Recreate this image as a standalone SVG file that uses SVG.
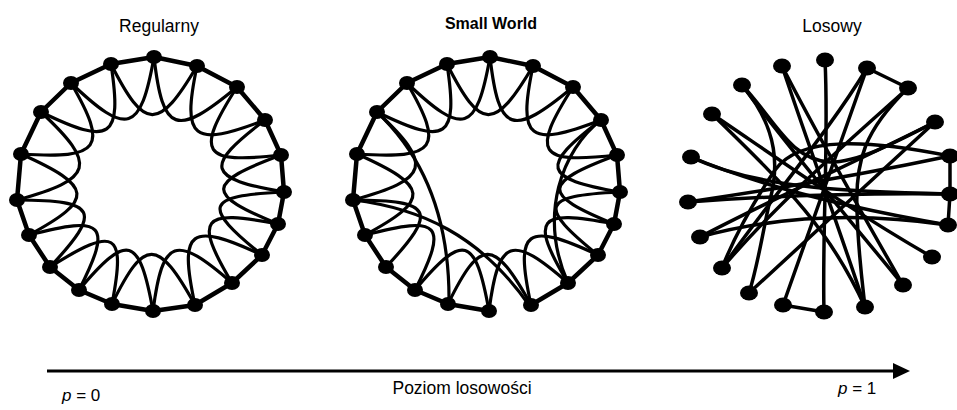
<svg xmlns="http://www.w3.org/2000/svg" width="957" height="410" viewBox="0 0 957 410">
<style>
text{font-family:"Liberation Sans",Arial,sans-serif;fill:#000}
.ring{fill:none;stroke:#000;stroke-width:4.5;stroke-linejoin:round;stroke-linecap:round}
.loop{fill:none;stroke:#000;stroke-width:3.2}
.rnd{fill:none;stroke:#000;stroke-width:3.5;stroke-linecap:round}
.n{fill:#000}
</style>
<defs>
<marker id="ah" markerUnits="userSpaceOnUse" markerWidth="18" markerHeight="18" refX="2" refY="9" orient="auto">
<path d="M0,1 L17,9 L0,17 Z" fill="#000"/>
</marker>
<g id="loops">
<path class="loop" d="M111,64 C144.7,130.9 158.5,131.3 197,66"/>
<path class="loop" d="M154,57 C162.7,133.1 175.9,137.9 237,87"/>
<path class="loop" d="M197,66 C181.5,139.5 192.3,148.1 265,120"/>
<path class="loop" d="M237,87 C194.6,153.3 201.6,164.1 281,155"/>
<path class="loop" d="M265,120 C203.2,166.9 206.2,178.5 284,192"/>
<path class="loop" d="M281,155 C205.3,183.2 204.9,194.2 278,224"/>
<path class="loop" d="M284,192 C204.7,195.8 201.1,205.8 262,255"/>
<path class="loop" d="M278,224 C200.8,208.8 193.4,218.2 232,283"/>
<path class="loop" d="M262,255 C189.4,221.2 178.6,229.2 195,305"/>
<path class="loop" d="M232,283 C175.2,233.5 162.6,237.9 153,311"/>
<path class="loop" d="M195,305 C157.7,237.7 144.5,237.5 112,304"/>
<path class="loop" d="M153,311 C139.4,235.6 127.6,232.2 79,290"/>
<path class="loop" d="M79,290 C112.7,223.7 104.7,214.9 29,235"/>
<path class="loop" d="M50,267 C102.7,210.9 97.5,200.1 17,200"/>
<path class="loop" d="M29,235 C94.8,199.4 93.6,186.4 21,154"/>
<path class="loop" d="M17,200 C93.9,179 97.7,165 41,112"/>
<path class="loop" d="M21,154 C100.8,159.4 108.8,148 71,83"/>
<path class="loop" d="M41,112 C111.2,146.3 122.4,138.7 111,64"/>
<path class="loop" d="M71,83 C127.4,136.8 140.6,132.6 154,57"/>
</g>
</defs>
<rect width="957" height="410" fill="#fff"/>

<text x="159" y="32" font-size="17.5" text-anchor="middle">Regularny</text>
<text x="491" y="29" font-size="16" font-weight="bold" text-anchor="middle">Small World</text>
<text x="832" y="32" font-size="17.5" text-anchor="middle">Losowy</text>

<g id="connectors">
<g id="regular-edges">
<path class="ring" d="M154,57 L197,66 L237,87 L265,120 L281,155 L284,192 L278,224 L262,255 L232,283 L195,305 L153,311 L112,304 L79,290 L50,267 L29,235 L17,200 L21,154 L41,112 L71,83 L111,64 Z"/>
<use href="#loops"/>
<path class="loop" d="M112,304 C126,231.5 116,225.5 50,267"/>
</g>
<g id="smallworld-edges">
<g transform="translate(336,0)">
<path class="ring" d="M153,311 L112,304 L79,290 L50,267 L29,235 L17,200 L21,154 L41,112 L71,83 L111,64 L154,57 L197,66 L237,87 L265,120 L281,155 L284,192 L278,224 L262,255 L232,283 L195,305"/>
<use href="#loops"/>
</g>
<path class="loop" d="M377,112 C428,160 450,225 449,304"/>
<path class="loop" d="M353,200 C420,208 480,235 529,305"/>
<path class="loop" d="M601,120 C562,150 538,215 568,283"/>
</g>
<g id="random-edges">
<path class="rnd" d="M825,60 C829,140 822,230 824,312"/>
<path class="rnd" d="M867,68 L908,88"/>
<path class="rnd" d="M867,68 L783,305"/>
<path class="rnd" d="M908,88 C850,140 780,200 722,268"/>
<path class="rnd" d="M908,88 C865,130 855,160 857,210 C858,250 862,280 865,307"/>
<path class="rnd" d="M935,122 L749,293"/>
<path class="rnd" d="M935,122 C860,160 780,195 700,237"/>
<path class="rnd" d="M950,156 L950,194"/>
<path class="rnd" d="M950,194 L948,225"/>
<path class="rnd" d="M950,156 C870,140 800,135 775,170 C755,200 735,235 722,268"/>
<path class="rnd" d="M950,156 C860,175 770,190 688,202"/>
<path class="rnd" d="M950,194 C870,193 770,196 688,202"/>
<path class="rnd" d="M950,194 C860,192 760,190 691,157"/>
<path class="rnd" d="M948,225 C860,210 770,190 691,157"/>
<path class="rnd" d="M948,225 C860,212 780,215 700,237"/>
<path class="rnd" d="M932,257 C850,210 780,160 712,114"/>
<path class="rnd" d="M903,285 C850,220 790,150 742,85"/>
<path class="rnd" d="M865,307 C840,230 810,150 782,66"/>
<path class="rnd" d="M712,114 C790,190 830,230 865,307"/>
<path class="rnd" d="M824,312 L783,305"/>
<path class="rnd" d="M782,66 C820,140 860,210 903,285"/>
<path class="rnd" d="M722,268 C770,200 830,130 867,68"/>
<path class="rnd" d="M742,85 C780,130 778,170 770,200 C762,235 758,265 749,293"/>
<path class="rnd" d="M742,85 C775,120 790,160 830,162 C860,162 900,140 935,122"/>
</g>
<g id="axis">
<path d="M47,371 L895,371" stroke="#000" stroke-width="3" fill="none" marker-end="url(#ah)"/>
</g>
</g>

<g id="reg0"><ellipse class="n" cx="154" cy="57" rx="8" ry="7"/></g>
<g id="reg1"><ellipse class="n" cx="197" cy="66" rx="8" ry="7"/></g>
<g id="reg2"><ellipse class="n" cx="237" cy="87" rx="8" ry="7"/></g>
<g id="reg3"><ellipse class="n" cx="265" cy="120" rx="8" ry="7"/></g>
<g id="reg4"><ellipse class="n" cx="281" cy="155" rx="8" ry="7"/></g>
<g id="reg5"><ellipse class="n" cx="284" cy="192" rx="8" ry="7"/></g>
<g id="reg6"><ellipse class="n" cx="278" cy="224" rx="8" ry="7"/></g>
<g id="reg7"><ellipse class="n" cx="262" cy="255" rx="8" ry="7"/></g>
<g id="reg8"><ellipse class="n" cx="232" cy="283" rx="8" ry="7"/></g>
<g id="reg9"><ellipse class="n" cx="195" cy="305" rx="8" ry="7"/></g>
<g id="reg10"><ellipse class="n" cx="153" cy="311" rx="8" ry="7"/></g>
<g id="reg11"><ellipse class="n" cx="112" cy="304" rx="8" ry="7"/></g>
<g id="reg12"><ellipse class="n" cx="79" cy="290" rx="8" ry="7"/></g>
<g id="reg13"><ellipse class="n" cx="50" cy="267" rx="8" ry="7"/></g>
<g id="reg14"><ellipse class="n" cx="29" cy="235" rx="8" ry="7"/></g>
<g id="reg15"><ellipse class="n" cx="17" cy="200" rx="8" ry="7"/></g>
<g id="reg16"><ellipse class="n" cx="21" cy="154" rx="8" ry="7"/></g>
<g id="reg17"><ellipse class="n" cx="41" cy="112" rx="8" ry="7"/></g>
<g id="reg18"><ellipse class="n" cx="71" cy="83" rx="8" ry="7"/></g>
<g id="reg19"><ellipse class="n" cx="111" cy="64" rx="8" ry="7"/></g>

<g id="sw0"><ellipse class="n" cx="490" cy="57" rx="8" ry="7"/></g>
<g id="sw1"><ellipse class="n" cx="533" cy="66" rx="8" ry="7"/></g>
<g id="sw2"><ellipse class="n" cx="573" cy="87" rx="8" ry="7"/></g>
<g id="sw3"><ellipse class="n" cx="601" cy="120" rx="8" ry="7"/></g>
<g id="sw4"><ellipse class="n" cx="617" cy="155" rx="8" ry="7"/></g>
<g id="sw5"><ellipse class="n" cx="620" cy="192" rx="8" ry="7"/></g>
<g id="sw6"><ellipse class="n" cx="614" cy="224" rx="8" ry="7"/></g>
<g id="sw7"><ellipse class="n" cx="598" cy="255" rx="8" ry="7"/></g>
<g id="sw8"><ellipse class="n" cx="568" cy="283" rx="8" ry="7"/></g>
<g id="sw9"><ellipse class="n" cx="531" cy="305" rx="8" ry="7"/></g>
<g id="sw10"><ellipse class="n" cx="489" cy="311" rx="8" ry="7"/></g>
<g id="sw11"><ellipse class="n" cx="448" cy="304" rx="8" ry="7"/></g>
<g id="sw12"><ellipse class="n" cx="415" cy="290" rx="8" ry="7"/></g>
<g id="sw13"><ellipse class="n" cx="386" cy="267" rx="8" ry="7"/></g>
<g id="sw14"><ellipse class="n" cx="365" cy="235" rx="8" ry="7"/></g>
<g id="sw15"><ellipse class="n" cx="353" cy="200" rx="8" ry="7"/></g>
<g id="sw16"><ellipse class="n" cx="357" cy="154" rx="8" ry="7"/></g>
<g id="sw17"><ellipse class="n" cx="377" cy="112" rx="8" ry="7"/></g>
<g id="sw18"><ellipse class="n" cx="407" cy="83" rx="8" ry="7"/></g>
<g id="sw19"><ellipse class="n" cx="447" cy="64" rx="8" ry="7"/></g>

<g id="rnd0"><ellipse class="n" cx="825" cy="60" rx="9" ry="7.5"/></g>
<g id="rnd1"><ellipse class="n" cx="867" cy="68" rx="9" ry="7.5"/></g>
<g id="rnd2"><ellipse class="n" cx="908" cy="88" rx="9" ry="7.5"/></g>
<g id="rnd3"><ellipse class="n" cx="935" cy="122" rx="9" ry="7.5"/></g>
<g id="rnd4"><ellipse class="n" cx="950" cy="156" rx="9" ry="7.5"/></g>
<g id="rnd5"><ellipse class="n" cx="950" cy="194" rx="9" ry="7.5"/></g>
<g id="rnd6"><ellipse class="n" cx="948" cy="225" rx="9" ry="7.5"/></g>
<g id="rnd7"><ellipse class="n" cx="932" cy="257" rx="9" ry="7.5"/></g>
<g id="rnd8"><ellipse class="n" cx="903" cy="285" rx="9" ry="7.5"/></g>
<g id="rnd9"><ellipse class="n" cx="865" cy="307" rx="9" ry="7.5"/></g>
<g id="rnd10"><ellipse class="n" cx="824" cy="312" rx="9" ry="7.5"/></g>
<g id="rnd11"><ellipse class="n" cx="783" cy="305" rx="9" ry="7.5"/></g>
<g id="rnd12"><ellipse class="n" cx="749" cy="293" rx="9" ry="7.5"/></g>
<g id="rnd13"><ellipse class="n" cx="722" cy="268" rx="9" ry="7.5"/></g>
<g id="rnd14"><ellipse class="n" cx="700" cy="237" rx="9" ry="7.5"/></g>
<g id="rnd15"><ellipse class="n" cx="688" cy="202" rx="9" ry="7.5"/></g>
<g id="rnd16"><ellipse class="n" cx="691" cy="157" rx="9" ry="7.5"/></g>
<g id="rnd17"><ellipse class="n" cx="712" cy="114" rx="9" ry="7.5"/></g>
<g id="rnd18"><ellipse class="n" cx="742" cy="85" rx="9" ry="7.5"/></g>
<g id="rnd19"><ellipse class="n" cx="782" cy="66" rx="9" ry="7.5"/></g>

<text x="62" y="401" font-size="17"><tspan font-style="italic">p</tspan> = 0</text>
<text x="462" y="394" font-size="17.5" text-anchor="middle">Poziom losowości</text>
<text x="838" y="394" font-size="17"><tspan font-style="italic">p</tspan> = 1</text>
</svg>
